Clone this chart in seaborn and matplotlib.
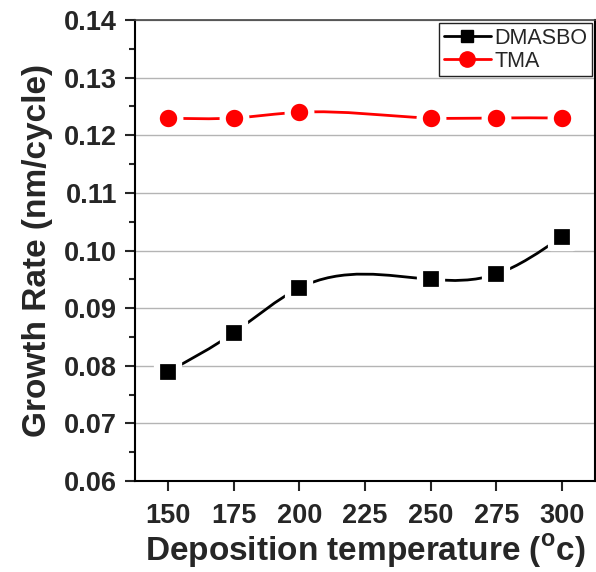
import numpy as np
import pandas as pd
import seaborn as sns
from matplotlib import pyplot as plt
from matplotlib.path import Path
from matplotlib.patches import PathPatch
from matplotlib.lines import Line2D
from matplotlib.ticker import MultipleLocator

temperature = [150, 175, 200, 250, 275, 300]
dmasbo = [0.0790, 0.0857, 0.0935, 0.0950, 0.0959, 0.1024]
tma = [0.1230, 0.1230, 0.1240, 0.1230, 0.1230, 0.1230]
xticks = [150, 175, 200, 225, 250, 275, 300]


def spline_path(x, y):
    # natural cubic spline, drawn as cubic bezier segments
    x = np.asarray(x, float)
    y = np.asarray(y, float)
    n = len(x)
    h = np.diff(x)
    A = np.zeros((n, n))
    b = np.zeros(n)
    A[0, 0] = A[-1, -1] = 1
    for i in range(1, n - 1):
        A[i, i - 1] = h[i - 1]
        A[i, i] = 2 * (h[i - 1] + h[i])
        A[i, i + 1] = h[i]
        b[i] = 6 * ((y[i + 1] - y[i]) / h[i] - (y[i] - y[i - 1]) / h[i - 1])
    M = np.linalg.solve(A, b)
    slope = np.empty(n)
    for i in range(n - 1):
        slope[i] = (y[i + 1] - y[i]) / h[i] - h[i] * (2 * M[i] + M[i + 1]) / 6
    slope[-1] = (y[-1] - y[-2]) / h[-1] + h[-1] * (M[-2] + 2 * M[-1]) / 6
    verts = [(x[0], y[0])]
    codes = [Path.MOVETO]
    for i in range(n - 1):
        verts += [(x[i] + h[i] / 3, y[i] + slope[i] * h[i] / 3),
                  (x[i + 1] - h[i] / 3, y[i + 1] - slope[i + 1] * h[i] / 3),
                  (x[i + 1], y[i + 1])]
        codes += [Path.CURVE4] * 3
    return Path(verts, codes)


sns.set_style("white")
plt.rcParams['font.family'] = ['Liberation Sans', 'DejaVu Sans']

df = pd.DataFrame({'temperature': temperature, 'DMASBO': dmasbo, 'TMA': tma})

fig = plt.figure(figsize=(5.96, 5.72), dpi=100)
ax = fig.add_axes([0.2265, 0.159, 0.7715, 0.806])

ax.grid(True, axis='y', color='#b4b4b4', linewidth=1)
ax.set_axisbelow(True)

for col, color in [('DMASBO', 'black'), ('TMA', '#ff0000')]:
    ax.add_patch(PathPatch(spline_path(df['temperature'], df[col]), fill=False,
                           edgecolor=color, linewidth=2, zorder=2))

sns.scatterplot(data=df, x='temperature', y='DMASBO', marker='s', color='black',
                s=16 ** 2, edgecolor='white', linewidth=4.5, ax=ax, zorder=3)
sns.scatterplot(data=df, x='temperature', y='TMA', marker='o', color='#ff0000',
                s=17 ** 2, edgecolor='white', linewidth=4.5, ax=ax, zorder=3)

ax.set_xlim(137.5, 312.5)
ax.set_ylim(0.06, 0.14)
ax.set_xticks(xticks)
ax.yaxis.set_major_locator(MultipleLocator(0.01))
ax.yaxis.set_minor_locator(MultipleLocator(0.005))
ax.yaxis.set_major_formatter(plt.FormatStrFormatter('%.2f'))

ax.tick_params(axis='both', which='major', direction='out', length=7, width=1.5,
               labelsize=19.5, bottom=True, left=True)
ax.tick_params(axis='y', which='major', pad=6)
ax.tick_params(axis='x', which='major', pad=9)
ax.tick_params(axis='y', which='minor', direction='out', length=4, width=1.5, left=True)
for lab in ax.get_xticklabels() + ax.get_yticklabels():
    lab.set_fontweight('bold')

for side in ['left', 'bottom', 'right']:
    ax.spines[side].set_color('black')
    ax.spines[side].set_linewidth(1.5)
ax.spines['top'].set_color('#444444')
ax.spines['top'].set_linewidth(1.2)

ax.set_xlabel('Deposition temperature ($^\\mathregular{o}$c)', fontsize=24,
              fontweight='bold', labelpad=2)
ax.set_ylabel('Growth Rate (nm/cycle)', fontsize=24, fontweight='bold', labelpad=8)

handles = [Line2D([], [], color='black', marker='s', markersize=9, linewidth=2),
           Line2D([], [], color='#ff0000', marker='o', markersize=11, linewidth=2)]
leg = ax.legend(handles, ['DMASBO', 'TMA'], loc='upper right', fontsize=15.5,
                fancybox=False, framealpha=1, edgecolor='#222222',
                borderaxespad=0.15, handlelength=2.2, handletextpad=0.15,
                labelspacing=0.1, borderpad=0.2)
leg.get_frame().set_linewidth(1)

fig.savefig('out.png', dpi=100)
